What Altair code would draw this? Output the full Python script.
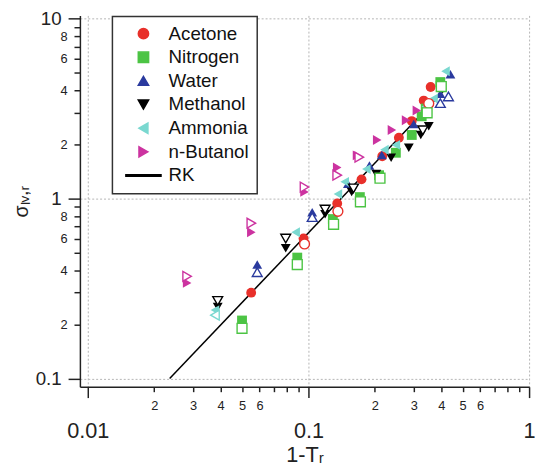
import altair as alt
import pandas as pd

substances = ["Acetone", "Nitrogen", "Water", "Methanol", "Ammonia", "n-Butanol"]
colors = ["#e8302a", "#4cc444", "#2a3a9e", "#000000", "#7ad8d0", "#cc33a0", "#000000"]

# filled markers
acetone_x = [0.055, 0.095, 0.135, 0.174, 0.216, 0.257, 0.294, 0.333, 0.358]
acetone_y = [0.30, 0.60, 0.94, 1.28, 1.72, 2.18, 2.70, 3.51, 4.18]
nitrogen_x = [0.050, 0.089, 0.129, 0.171, 0.209, 0.249, 0.294, 0.326, 0.340, 0.396]
nitrogen_y = [0.21, 0.47, 0.77, 1.02, 1.35, 1.80, 2.26, 2.87, 3.17, 4.45]
water_x = [0.0586, 0.104, 0.151, 0.189, 0.215, 0.300, 0.396, 0.440]
water_y = [0.43, 0.84, 1.21, 1.53, 1.75, 2.60, 3.83, 4.92]
methanol_x = [0.0388, 0.0789, 0.119, 0.157, 0.203, 0.237, 0.285, 0.323, 0.351]
methanol_y = [0.25, 0.53, 0.82, 1.09, 1.37, 1.69, 1.92, 2.26, 2.53]
ammonia_x = [0.0377, 0.0875, 0.136, 0.146, 0.183, 0.221, 0.249, 0.340, 0.369, 0.418]
ammonia_y = [0.24, 0.65, 1.06, 1.24, 1.46, 1.87, 1.99, 3.25, 3.60, 5.11]
butanol_x = [0.0282, 0.0551, 0.096, 0.135, 0.166, 0.205, 0.239, 0.277, 0.310]
butanol_y = [0.34, 0.65, 1.09, 1.49, 1.74, 2.12, 2.41, 2.73, 3.09]

# open markers
acetone_open_x = [0.096, 0.136, 0.351]
acetone_open_y = [0.56, 0.85, 3.38]
nitrogen_open_x = [0.050, 0.089, 0.130, 0.172, 0.211, 0.345, 0.400]
nitrogen_open_y = [0.19, 0.43, 0.72, 0.96, 1.30, 3.00, 4.20]
water_open_x = [0.0586, 0.104, 0.396, 0.431]
water_open_y = [0.39, 0.79, 3.40, 3.70]
methanol_open_x = [0.0388, 0.0789, 0.119, 0.160, 0.330]
methanol_open_y = [0.27, 0.60, 0.87, 1.14, 2.40]
ammonia_open_x = [0.0377]
ammonia_open_y = [0.225]
butanol_open_x = [0.0282, 0.0551, 0.096, 0.135, 0.170]
butanol_open_y = [0.37, 0.73, 1.16, 1.35, 1.70]

# RK correlation line
rk_x = [0.0235, 0.42]
rk_y = [0.10, 4.10]

x_ticks = [0.01, 0.02, 0.03, 0.04, 0.05, 0.06, 0.07, 0.08, 0.09,
           0.1, 0.2, 0.3, 0.4, 0.5, 0.6, 0.7, 0.8, 0.9, 1.0]
y_ticks = [0.1, 0.2, 0.3, 0.4, 0.5, 0.6, 0.7, 0.8, 0.9,
           1.0, 2.0, 3.0, 4.0, 5.0, 6.0, 7.0, 8.0, 9.0, 10.0]

filled_sets = [(acetone_x, acetone_y), (nitrogen_x, nitrogen_y), (water_x, water_y),
               (methanol_x, methanol_y), (ammonia_x, ammonia_y), (butanol_x, butanol_y)]
open_sets = [(acetone_open_x, acetone_open_y), (nitrogen_open_x, nitrogen_open_y),
             (water_open_x, water_open_y), (methanol_open_x, methanol_open_y),
             (ammonia_open_x, ammonia_open_y), (butanol_open_x, butanol_open_y)]

rows_f, rows_o = [], []
for name, (xs, ys) in zip(substances, filled_sets):
    rows_f += [{"substance": name, "x": a, "y": b} for a, b in zip(xs, ys)]
for name, (xs, ys) in zip(substances, open_sets):
    rows_o += [{"substance": name, "x": a, "y": b} for a, b in zip(xs, ys)]
df_f = pd.DataFrame(rows_f)
df_o = pd.DataFrame(rows_o)
df_rk = pd.DataFrame({"x": rk_x, "y": rk_y})

domain = substances + ["RK"]
shapes = ["circle", "square", "triangle-up", "triangle-down", "triangle-left",
          "triangle-right", "M-3.4,-0.13L3.4,-0.13L3.4,0.13L-3.4,0.13Z"]

FONT = "Liberation Sans"
M = "round(datum.value/pow(10,floor(log(datum.value)/LN10+1e-9)))"
MAJ = f"{M} == 1"
AX = "#222222"

xscale = alt.Scale(type="log", domain=[0.00921, 1.0], nice=False)
yscale = alt.Scale(type="log", domain=[0.0899, 10.45], nice=False)

x_axis = alt.Axis(
    values=x_ticks, format="~g",
    labelExpr=f"{MAJ} ? datum.label : ({M} <= 6 ? '' + {M} : '')",
    labelFontSize={"condition": {"test": MAJ, "value": 22}, "value": 13},
    labelPadding={"condition": {"test": MAJ, "value": 24}, "value": 8},
    tickSize={"condition": {"test": MAJ, "value": 11}, "value": 5},
    gridOpacity={"condition": {"test": MAJ, "value": 1}, "value": 0},
    grid=True, gridColor="#b5b5b5", gridDash=[2, 2], gridWidth=1,
    domainColor=AX, domainWidth=1.5, tickColor=AX, tickWidth=1.5,
    labelColor=AX, labelFont=FONT, labelOverlap=False, labelFlush=False, labelBound=False,
    title="1-Tᵣ", titleFont=FONT, titleFontSize=22, titleFontWeight="normal",
    titleColor=AX, titlePadding=3,
)
y_axis = alt.Axis(
    values=y_ticks, format="~g",
    labelExpr=f"{MAJ} ? datum.label : ({M} % 2 == 0 ? '' + {M} : '')",
    labelFontSize={"condition": {"test": MAJ, "value": 19}, "value": 13},
    labelPadding=7,
    tickSize={"condition": {"test": MAJ, "value": 12}, "value": 6},
    gridOpacity={"condition": {"test": MAJ, "value": 1}, "value": 0},
    grid=True, gridColor="#b5b5b5", gridDash=[2, 2], gridWidth=1,
    domainColor=AX, domainWidth=1.5, tickColor=AX, tickWidth=1.5,
    labelColor=AX, labelFont=FONT, labelOverlap=False, labelFlush=False, labelBound=False,
    title="σₗᵥ,ᵣ", titleFont=FONT, titleFontSize=20, titleFontWeight="normal",
    titleColor=AX, titlePadding=4,
)

legend = alt.Legend(
    title=None, orient="none", legendX=33, legendY=1, padding=8,
    symbolOffset=14, labelOffset=16, labelFontSize=19, labelFont=FONT,
    labelColor="#111111", symbolSize=110, rowPadding=4,
    strokeColor="#333333", fillColor="white",
)

color_f = alt.Color("substance:N", scale=alt.Scale(domain=domain, range=colors), legend=legend)
shape_f = alt.Shape("substance:N", scale=alt.Scale(domain=domain, range=shapes), legend=legend)
color_o = alt.Color("substance:N", scale=alt.Scale(domain=domain, range=colors), legend=None)
shape_o = alt.Shape("substance:N", scale=alt.Scale(domain=domain, range=shapes), legend=None)

line = alt.Chart(df_rk).mark_line(color="black", strokeWidth=1.5).encode(
    x=alt.X("x:Q", scale=xscale, axis=x_axis),
    y=alt.Y("y:Q", scale=yscale, axis=y_axis),
)

filled = alt.Chart(df_f).mark_point(filled=True, opacity=1, size=100).encode(
    x=alt.X("x:Q", scale=xscale, axis=x_axis),
    y=alt.Y("y:Q", scale=yscale, axis=y_axis),
    color=color_f, shape=shape_f,
)

hollow = alt.Chart(df_o).mark_point(filled=False, fill="white", fillOpacity=1, opacity=1,
                                     size=100, strokeWidth=1.4).encode(
    x=alt.X("x:Q", scale=xscale, axis=x_axis),
    y=alt.Y("y:Q", scale=yscale, axis=y_axis),
    color=color_o, shape=shape_o,
)

chart = alt.layer(line, filled, hollow).properties(
    width=456, height=377,
    autosize=alt.AutoSizeParams(type="none"),
    padding={"left": 73, "top": 4, "right": 6, "bottom": 82},
).configure_view(stroke=None).configure_legend(strokeWidth=1.5)

chart.save("out.html", embed_options={"renderer": "svg", "actions": False})
